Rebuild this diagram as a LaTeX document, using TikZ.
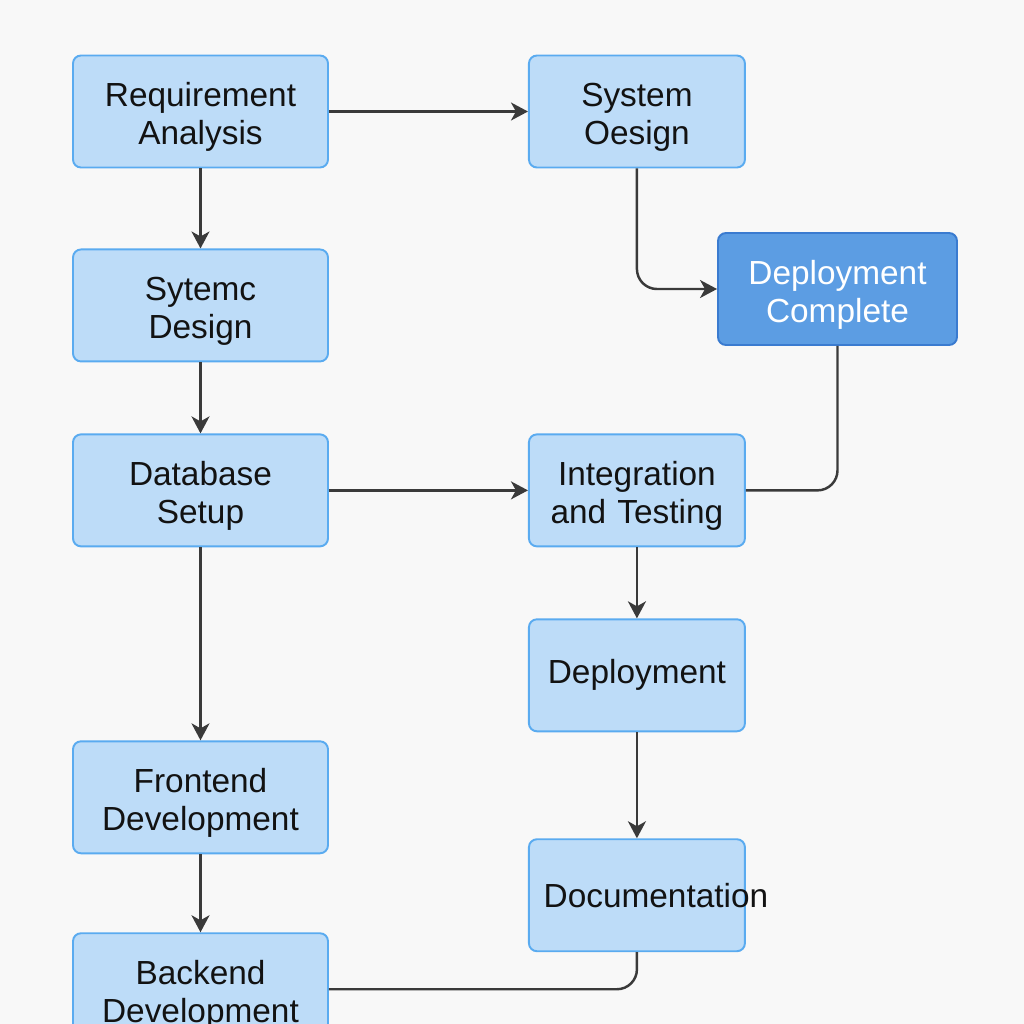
\documentclass[tikz,border=0pt]{standalone}
\usepackage{fontspec}
\setmainfont{Liberation Sans}
\usetikzlibrary{positioning,arrows.meta}
\definecolor{paper}{HTML}{F8F8F8}
\definecolor{boxfill}{HTML}{BDDCF8}
\definecolor{boxline}{HTML}{5AABF0}
\definecolor{donefill}{HTML}{5C9DE3}
\definecolor{doneline}{HTML}{3A7BD0}
\definecolor{wire}{HTML}{3A3A3A}

\begin{document}
\begin{tikzpicture}
    [font=\fontsize{19}{21.5}\selectfont,
    box/.style={rectangle, rounded corners=0.16cm, fill=boxfill,
    draw=boxline, line width=1.1pt, text=black!93,
    minimum width=5.10cm, minimum height=2.24cm,
    text width=4.6cm, align=center},
    narrow/.style={minimum width=4.32cm, text width=3.8cm},
    duo/.style={execute at begin node={\rule{0pt}{0.71cm}}},
    done/.style={box, duo, fill=donefill, draw=doneline, text=white,
    minimum width=4.78cm, minimum height=2.24cm, text width=4.2cm},
    flow/.style={draw=wire, line width=1.4pt, rounded corners=0.4cm,
    -{Stealth[length=3.4mm, width=3.6mm, inset=1mm]}},
    link/.style={draw=wire, line width=1.4pt, rounded corners=0.4cm}]
    \fill[paper] (0,0) rectangle (20.48,-20.48);
    \clip (0,0) rectangle (20.48,-20.48);

    % left column
    \node[box, duo] (req) at (4.01,-2.23) {Requirement\\Analysis};
    \node[box, duo, below=1.6cm of req] (sytemc) {Sytemc\\Design};
    \node[box, duo, below=1.42cm of sytemc] (db) {Database\\Setup};
    \node[box, duo, below=3.86cm of db] (front) {Frontend\\Development};
    \node[box, duo, below=1.56cm of front] (back) {Backend\\Development};

    % right column
    \node[box, narrow, duo, right=3.98cm of req] (sysdes) {System\\Oesign};
    \node[box, narrow, duo, right=3.98cm of db] (integ) {Integration\\and Testing};
    \node[box, narrow, below=1.42cm of integ] (deploy) {Deployment};
    \node[box, narrow, below=2.12cm of deploy] (docs)
        {\makebox[0pt][c]{\hspace{0.76cm}Documentation}};
    \node[done] (complete) at (16.75,-5.78) {Deployment\\Complete};

    % connectors
    \draw[flow] (req) -- (sysdes);
    \draw[flow] (req) -- (sytemc);
    \draw[flow] (sysdes) |- (complete);
    \draw[link] (complete) |- (integ);
    \draw[flow] (sytemc) -- (db);
    \draw[flow] (db) -- (integ);
    \draw[flow] (db) -- (front);
    \draw[flow] (integ) -- (deploy);
    \draw[flow] (deploy) -- (docs);
    \draw[flow] (front) -- (back);
    \draw[link] (docs) |- (back);
\end{tikzpicture}
\end{document}
